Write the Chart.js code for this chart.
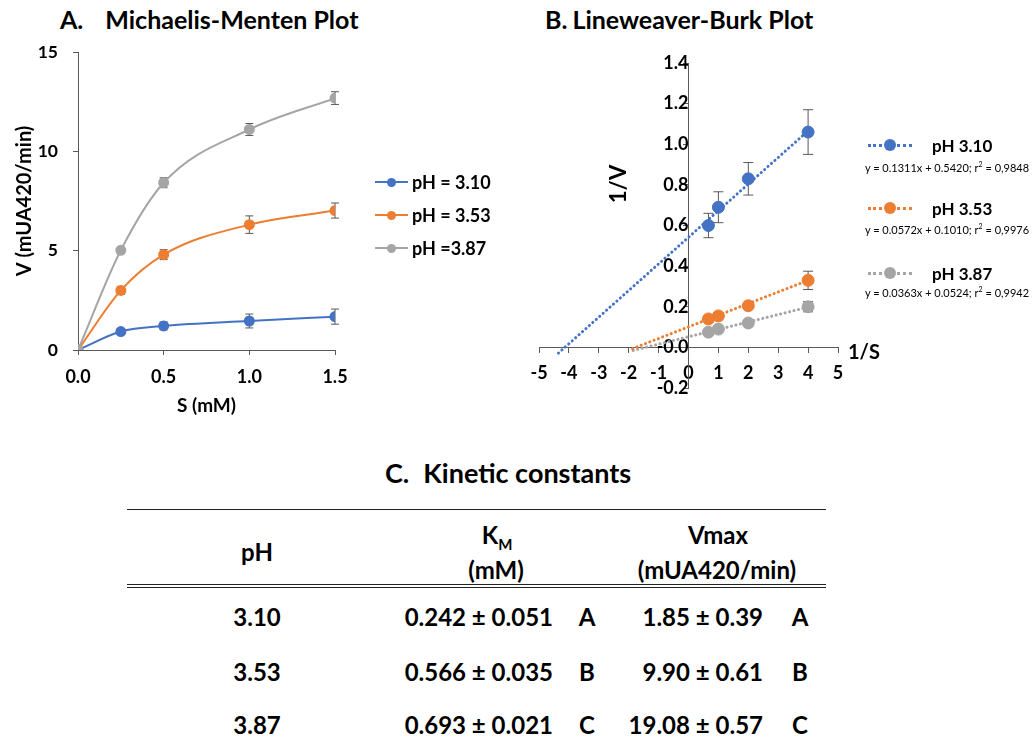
<!DOCTYPE html>
<html>
<head>
<meta charset="utf-8">
<script src="https://cdn.jsdelivr.net/npm/chart.js@4.4.0/dist/chart.umd.min.js"></script>
<style>
  body { margin: 0; background: #fff; font-family: Lato, "Open Sans", sans-serif; color: #000; }
  #page { position: relative; width: 1035px; height: 745px; overflow: hidden; }
  .abs { position: absolute; white-space: nowrap; }
  .title { font-weight: bold; font-size: 25px; line-height: 32px; }
  .leg { position: absolute; display: flex; align-items: center; font-weight: bold; white-space: nowrap; }
  .sample { position: relative; display: inline-block; }
  .dot { position: absolute; border-radius: 50%; }
  .eq { position: absolute; font-size: 11px; white-space: nowrap; transform: translateX(-50%); }
  .cell { position: absolute; font-weight: bold; font-size: 24px; white-space: nowrap; line-height: 28px; }
  .rule { position: absolute; left: 127px; width: 699px; }
</style>
</head>
<body>
<div id="page">
  <div class="abs title" style="left:60px;top:3px"><span style="margin-right:22px">A.</span>Michaelis-Menten Plot</div>
  <div class="abs title" style="left:545px;top:3px"><span style="margin-right:5px">B.</span>Lineweaver-Burk Plot</div>
  <canvas id="mmChart" class="abs" width="360" height="430" style="left:0;top:0"></canvas>
  <canvas id="lbChart" class="abs" width="380" height="430" style="left:500px;top:0"></canvas>
  <div class="abs" style="left:617px;top:184px;transform:translate(-50%,-50%) rotate(-90deg);font-weight:bold;font-size:22px">1/V</div>
  <div class="abs" style="left:848px;top:339px;font-weight:bold;font-size:20px">1/S</div>
  <div id="legendA"></div>
  <div id="legendB"></div>
  <div class="abs title" style="left:385px;top:457px;font-size:27px"><span style="margin-right:14px">C.</span>Kinetic constants</div>
  <div id="table"></div>
</div>
<script>
// A. Michaelis-Menten data
const substrate = [0, 0.25, 0.5, 1.0, 1.5];
const v310 = [0, 0.93, 1.21, 1.46, 1.68];
const v353 = [0, 3.0, 4.8, 6.31, 7.02];
const v387 = [0, 5.02, 8.42, 11.1, 12.68];
const v310Err = [0, 0.15, 0.2, 0.35, 0.38];
const v353Err = [0, 0.2, 0.25, 0.44, 0.38];
const v387Err = [0, 0.15, 0.25, 0.3, 0.32];
const mmLabels = ['pH = 3.10', 'pH = 3.53', 'pH =3.87'];

// B. Lineweaver-Burk data
const invS = [0.667, 1, 2, 4];
const invV310 = [0.6, 0.69, 0.83, 1.06];
const invV353 = [0.14, 0.155, 0.205, 0.33];
const invV387 = [0.075, 0.09, 0.12, 0.2];
const invV310Err = [0.06, 0.076, 0.08, 0.11];
const invV353Err = [0.01, 0.01, 0.012, 0.045];
const invV387Err = [0.008, 0.008, 0.01, 0.025];
const fitX310 = [-4.35, 4], fitY310 = [-0.028, 1.066];
const fitX353 = [-1.87, 4], fitY353 = [-0.006, 0.330];
const fitX387 = [-1.85, 4], fitY387 = [-0.015, 0.198];
const lbLabels = ['pH 3.10', 'pH 3.53', 'pH 3.87'];
const eqSlope = ['0.1311', '0.0572', '0.0363'];
const eqIntercept = ['0.5420', '0.1010', '0.0524'];
const eqR2 = ['0,9848', '0,9976', '0,9942'];

// C. Kinetic constants
const tablePH = ['3.10', '3.53', '3.87'];
const kmValues = ['0.242', '0.566', '0.693'];
const kmErr = ['0.051', '0.035', '0.021'];
const kmGroups = ['A', 'B', 'C'];
const vmaxValues = ['1.85', '9.90', '19.08'];
const vmaxErr = ['0.39', '0.61', '0.57'];
const vmaxGroups = ['A', 'B', 'C'];

const colors = ['#4472C4', '#ED7D31', '#A5A5A5'];
const FONT = 'Lato, "Open Sans", sans-serif';
const axisColor = '#595959';

const pts = (xs, ys) => xs.map((x, i) => ({ x: x, y: ys[i] }));

const errorBarPlugin = {
  id: 'errorBars',
  beforeDatasetsDraw(chart, args, opts) {
    const { ctx, scales: { x, y } } = chart;
    ctx.save();
    ctx.strokeStyle = '#595959';
    ctx.lineWidth = 1;
    chart.data.datasets.forEach(ds => {
      if (!ds.errors) return;
      ds.data.forEach((p, j) => {
        const e = ds.errors[j];
        if (!e) return;
        const px = x.getPixelForValue(p.x);
        const top = y.getPixelForValue(p.y + e);
        const bot = y.getPixelForValue(p.y - e);
        const w = opts.cap;
        ctx.beginPath();
        ctx.moveTo(px, top); ctx.lineTo(px, bot);
        ctx.moveTo(px - w, top); ctx.lineTo(px + w, top);
        ctx.moveTo(px - w, bot); ctx.lineTo(px + w, bot);
        ctx.stroke();
      });
    });
    ctx.restore();
  }
};

const boldFont = size => ({ family: FONT, size: size, weight: 'bold' });

// Chart A
const mmSeries = [v310, v353, v387];
const mmErrs = [v310Err, v353Err, v387Err];
new Chart(document.getElementById('mmChart'), {
  type: 'line',
  plugins: [errorBarPlugin],
  data: {
    datasets: mmSeries.map((s, i) => ({
      label: mmLabels[i],
      data: pts(substrate, s),
      errors: mmErrs[i],
      borderColor: colors[i],
      backgroundColor: colors[i],
      borderWidth: 2,
      pointRadius: 4.5,
      cubicInterpolationMode: 'monotone'
    })).reverse()
  },
  options: {
    responsive: false,
    animation: false,
    layout: { padding: { left: 0, right: 25, top: 52, bottom: 0 } },
    plugins: { legend: { display: false }, tooltip: { enabled: false }, errorBars: { cap: 4 } },
    scales: {
      x: {
        type: 'linear', min: 0, max: 1.5,
        afterFit: s => { s.height = 80; },
        border: { color: axisColor },
        grid: { drawOnChartArea: false, tickLength: 5, color: axisColor },
        ticks: { stepSize: 0.5, color: '#000', font: boldFont(18), padding: 11, callback: v => v.toFixed(1) },
        title: { display: true, text: 'S (mM)', color: '#000', font: boldFont(19), padding: { bottom: 13 } }
      },
      y: {
        min: 0, max: 15,
        afterFit: s => { s.width = 78; },
        border: { color: axisColor },
        grid: { drawOnChartArea: false, tickLength: 5, color: axisColor },
        ticks: { stepSize: 5, color: '#000', font: boldFont(17.5), padding: 15 },
        title: { display: true, text: 'V (mUA420/min)', color: '#000', font: boldFont(20), padding: { top: 13 } }
      }
    }
  }
});

// Chart B
const lbSeries = [invV310, invV353, invV387];
const lbErrs = [invV310Err, invV353Err, invV387Err];
const fits = [[fitX310, fitY310], [fitX353, fitY353], [fitX387, fitY387]];
const lbDatasets = [];
lbSeries.forEach((s, i) => {
  lbDatasets.push({
    label: lbLabels[i] + ' fit',
    data: pts(fits[i][0], fits[i][1]),
    borderColor: colors[i],
    borderWidth: 3,
    borderDash: [0.1, 4.5],
    borderCapStyle: 'round',
    pointRadius: 0
  });
});
lbSeries.forEach((s, i) => {
  lbDatasets.push({
    label: lbLabels[i],
    data: pts(invS, s),
    errors: lbErrs[i],
    showLine: false,
    borderColor: colors[i],
    backgroundColor: colors[i],
    pointRadius: 6
  });
});
new Chart(document.getElementById('lbChart'), {
  type: 'line',
  plugins: [errorBarPlugin],
  data: { datasets: lbDatasets },
  options: {
    responsive: false,
    animation: false,
    layout: { padding: { left: 39, right: 42, top: 63, bottom: 42 } },
    plugins: { legend: { display: false }, tooltip: { enabled: false }, errorBars: { cap: 5 } },
    scales: {
      x: {
        type: 'linear', min: -5, max: 5, position: { y: 0 },
        afterFit: s => { s.height = 0; },
        border: { color: axisColor },
        grid: { drawOnChartArea: false, tickLength: 5, color: axisColor },
        ticks: { stepSize: 1, color: '#000', font: boldFont(18), padding: 10 }
      },
      y: {
        min: -0.2, max: 1.4, position: { x: 0 },
        afterFit: s => { s.width = 0; },
        border: { color: axisColor },
        grid: { drawOnChartArea: false, tickLength: 5, color: axisColor },
        ticks: { stepSize: 0.2, color: '#000', font: boldFont(18), padding: 12, callback: v => v.toFixed(1) }
      }
    }
  }
});

// Legends
const legendA = document.getElementById('legendA');
const legAY = [182, 215, 248];
mmLabels.forEach((lab, i) => {
  legendA.insertAdjacentHTML('beforeend',
    `<div class="leg" style="left:375px;top:${legAY[i] - 12}px;height:24px;font-size:18px">
       <span class="sample" style="width:33px;height:0;border-top:2px solid ${colors[i]}">
         <span class="dot" style="width:9px;height:9px;left:12px;top:-5.5px;background:${colors[i]}"></span>
       </span><span style="margin-left:4px">${lab}</span></div>`);
});
const legendB = document.getElementById('legendB');
const legBY = [145, 208, 273];
const eqBY = [168, 230, 293];
lbLabels.forEach((lab, i) => {
  legendB.insertAdjacentHTML('beforeend',
    `<div class="leg" style="left:868px;top:${legBY[i] - 12}px;height:24px;font-size:17px">
       <span class="sample" style="width:44px;height:0;border-top:3px dotted ${colors[i]}">
         <span class="dot" style="width:12px;height:12px;left:16px;top:-7.5px;background:${colors[i]}"></span>
       </span><span style="margin-left:20px">${lab}</span></div>
     <div class="eq" style="left:947px;top:${eqBY[i] - 8}px">y = ${eqSlope[i]}x + ${eqIntercept[i]}; r<sup style="font-size:7px">2</sup> = ${eqR2[i]}</div>`);
});

// Table
const table = document.getElementById('table');
let html = '<div class="rule" style="top:509px;height:0;border-top:1.5px solid #222"></div>' +
           '<div class="rule" style="top:584px;height:0;border-top:4px double #222"></div>';
const center = (x, y, text) => `<div class="cell" style="left:${x}px;top:${y - 14}px;transform:translateX(-50%)">${text}</div>`;
const right = (x, y, text) => `<div class="cell" style="right:${1035 - x}px;top:${y - 14}px">${text}</div>`;
html += center(257, 552, 'pH');
html += center(497, 535, 'K<sub style="font-size:15px">M</sub>');
html += center(496, 570, '(mM)');
html += center(718, 535, 'Vmax');
html += center(717, 570, '(mUA420/min)');
const rowY = [617, 672, 725];
tablePH.forEach((ph, i) => {
  const y = rowY[i];
  html += center(257, y, ph);
  html += right(553, y, `${kmValues[i]} ± ${kmErr[i]}`);
  html += center(587, y, kmGroups[i]);
  html += right(763, y, `${vmaxValues[i]} ± ${vmaxErr[i]}`);
  html += center(800, y, vmaxGroups[i]);
});
table.innerHTML = html;
</script>
</body>
</html>
